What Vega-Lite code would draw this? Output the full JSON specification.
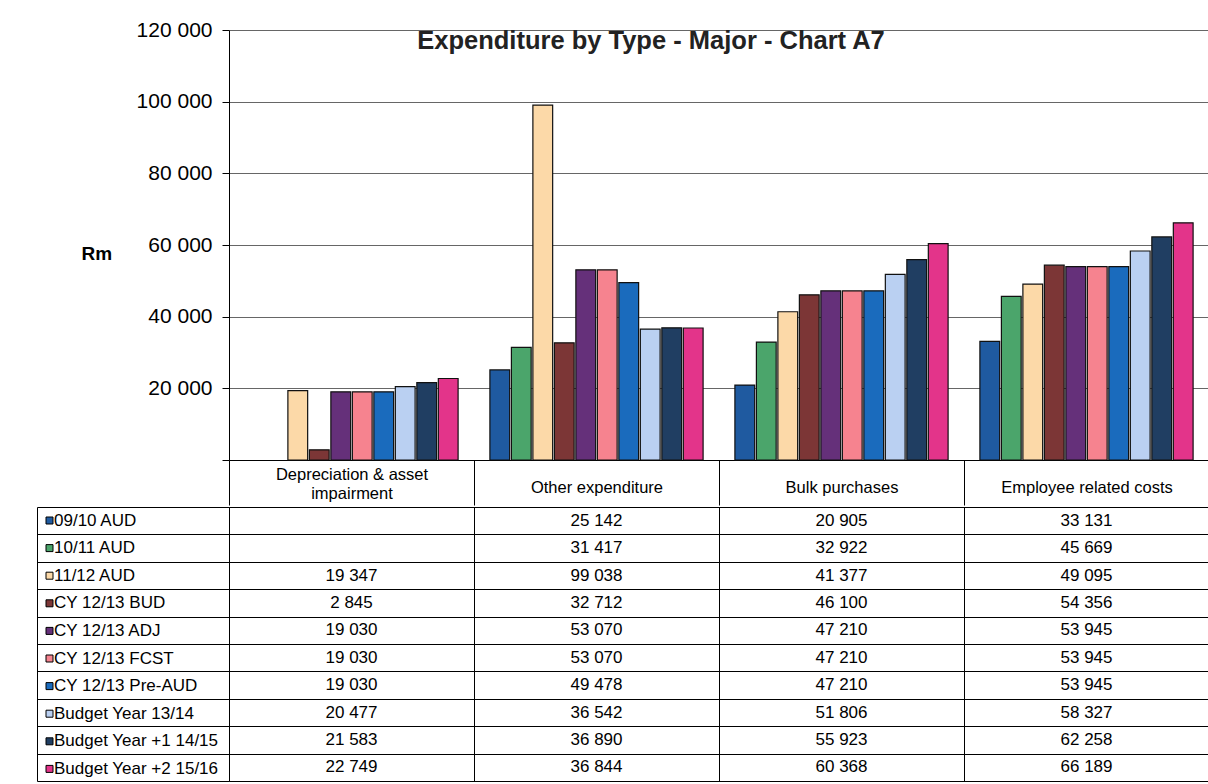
{
  "$schema": "https://vega.github.io/schema/vega-lite/v6.json",
  "background": "white",
  "padding": {"left": 36, "top": 19, "right": 0, "bottom": 0},
  "spacing": 0,
  "config": {
    "locale": {"number": {"decimal": ".", "thousands": " ", "grouping": [3], "currency": ["", ""]}},
    "view": {"stroke": null},
    "font": "Liberation Sans"
  },
  "datasets": {
    "spend": [
      {"category": "Depreciation & asset impairment", "series": "11/12 AUD", "value": 19347},
      {"category": "Depreciation & asset impairment", "series": "CY 12/13 BUD", "value": 2845},
      {"category": "Depreciation & asset impairment", "series": "CY  12/13 ADJ", "value": 19030},
      {"category": "Depreciation & asset impairment", "series": "CY 12/13 FCST", "value": 19030},
      {"category": "Depreciation & asset impairment", "series": "CY 12/13 Pre-AUD", "value": 19030},
      {"category": "Depreciation & asset impairment", "series": "Budget Year 13/14", "value": 20477},
      {"category": "Depreciation & asset impairment", "series": "Budget Year +1 14/15", "value": 21583},
      {"category": "Depreciation & asset impairment", "series": "Budget Year +2 15/16", "value": 22749},
      {"category": "Other expenditure", "series": "09/10 AUD", "value": 25142},
      {"category": "Other expenditure", "series": "10/11 AUD", "value": 31417},
      {"category": "Other expenditure", "series": "11/12 AUD", "value": 99038},
      {"category": "Other expenditure", "series": "CY 12/13 BUD", "value": 32712},
      {"category": "Other expenditure", "series": "CY  12/13 ADJ", "value": 53070},
      {"category": "Other expenditure", "series": "CY 12/13 FCST", "value": 53070},
      {"category": "Other expenditure", "series": "CY 12/13 Pre-AUD", "value": 49478},
      {"category": "Other expenditure", "series": "Budget Year 13/14", "value": 36542},
      {"category": "Other expenditure", "series": "Budget Year +1 14/15", "value": 36890},
      {"category": "Other expenditure", "series": "Budget Year +2 15/16", "value": 36844},
      {"category": "Bulk purchases", "series": "09/10 AUD", "value": 20905},
      {"category": "Bulk purchases", "series": "10/11 AUD", "value": 32922},
      {"category": "Bulk purchases", "series": "11/12 AUD", "value": 41377},
      {"category": "Bulk purchases", "series": "CY 12/13 BUD", "value": 46100},
      {"category": "Bulk purchases", "series": "CY  12/13 ADJ", "value": 47210},
      {"category": "Bulk purchases", "series": "CY 12/13 FCST", "value": 47210},
      {"category": "Bulk purchases", "series": "CY 12/13 Pre-AUD", "value": 47210},
      {"category": "Bulk purchases", "series": "Budget Year 13/14", "value": 51806},
      {"category": "Bulk purchases", "series": "Budget Year +1 14/15", "value": 55923},
      {"category": "Bulk purchases", "series": "Budget Year +2 15/16", "value": 60368},
      {"category": "Employee related costs", "series": "09/10 AUD", "value": 33131},
      {"category": "Employee related costs", "series": "10/11 AUD", "value": 45669},
      {"category": "Employee related costs", "series": "11/12 AUD", "value": 49095},
      {"category": "Employee related costs", "series": "CY 12/13 BUD", "value": 54356},
      {"category": "Employee related costs", "series": "CY  12/13 ADJ", "value": 53945},
      {"category": "Employee related costs", "series": "CY 12/13 FCST", "value": 53945},
      {"category": "Employee related costs", "series": "CY 12/13 Pre-AUD", "value": 53945},
      {"category": "Employee related costs", "series": "Budget Year 13/14", "value": 58327},
      {"category": "Employee related costs", "series": "Budget Year +1 14/15", "value": 62258},
      {"category": "Employee related costs", "series": "Budget Year +2 15/16", "value": 66189}
    ]
  },
  "vconcat": [
    {
      "width": 980,
      "height": 430,
      "data": {"name": "spend"},
      "title": {
        "text": "Expenditure by Type - Major - Chart A7",
        "fontSize": 25.5,
        "fontWeight": "bold",
        "color": "#222",
        "frame": "group",
        "anchor": "middle",
        "dx": -68,
        "dy": 55,
        "offset": 0,
        "baseline": "alphabetic"
      },
      "mark": {"type": "bar", "stroke": "#111", "strokeWidth": 1.2},
      "encoding": {
        "x": {
          "field": "category",
          "type": "nominal",
          "sort": ["Depreciation & asset impairment", "Other expenditure", "Bulk purchases", "Employee related costs"],
          "scale": {"paddingInner": 0, "paddingOuter": 0},
          "axis": {
            "title": null,
            "domainColor": "#000",
            "tickBand": "extent",
            "tickSize": 45,
            "tickColor": "#000",
            "labelAngle": 0,
            "labelFontSize": 16.5,
            "labelColor": "#000",
            "labelBaseline": "middle",
            "labelPadding": {"condition": {"test": "datum.value === 'Depreciation & asset impairment'", "value": -31}, "value": -18},
            "labelLineHeight": 19,
            "labelLimit": 240,
            "labelExpr": "datum.value == 'Depreciation & asset impairment' ? ['Depreciation & asset', 'impairment'] : datum.label"
          }
        },
        "xOffset": {
          "field": "series",
          "type": "nominal",
          "sort": ["09/10 AUD", "10/11 AUD", "11/12 AUD", "CY 12/13 BUD", "CY  12/13 ADJ", "CY 12/13 FCST", "CY 12/13 Pre-AUD", "Budget Year 13/14", "Budget Year +1 14/15", "Budget Year +2 15/16"],
          "scale": {"paddingInner": 0.08, "paddingOuter": 0.74}
        },
        "y": {
          "field": "value",
          "type": "quantitative",
          "scale": {"domain": [0, 120000], "nice": false},
          "axis": {
            "title": "Rm",
            "titleAngle": 0,
            "titleX": -148,
            "titleY": 223,
            "titleAlign": "left",
            "titleBaseline": "middle",
            "titleFontSize": 19,
            "titleFontWeight": "bold",
            "titleColor": "#000",
            "values": [0, 20000, 40000, 60000, 80000, 100000, 120000],
            "format": ",d",
            "labelExpr": "datum.value == 0 ? '' : datum.label",
            "labelFontSize": 21,
            "labelColor": "#000",
            "labelPadding": 10,
            "tickSize": 7,
            "tickColor": "#000",
            "domainColor": "#000",
            "grid": true,
            "gridColor": "#666"
          }
        },
        "color": {
          "field": "series",
          "type": "nominal",
          "scale": {
            "domain": ["09/10 AUD", "10/11 AUD", "11/12 AUD", "CY 12/13 BUD", "CY  12/13 ADJ", "CY 12/13 FCST", "CY 12/13 Pre-AUD", "Budget Year 13/14", "Budget Year +1 14/15", "Budget Year +2 15/16"],
            "range": ["#1f5aa0", "#4ba56b", "#fcd9a8", "#7c3636", "#65307a", "#f6838f", "#1a6bbd", "#bad0f2", "#203e62", "#e3348a"]
          },
          "legend": null
        }
      }
    },
    {
      "width": 980,
      "height": 274,
      "data": {"name": "spend"},
      "layer": [
        {
          "mark": {"type": "text", "fontSize": 17, "font": "Liberation Sans", "baseline": "middle"},
          "encoding": {
            "x": {
              "field": "category",
              "type": "nominal",
              "sort": ["Depreciation & asset impairment", "Other expenditure", "Bulk purchases", "Employee related costs"],
              "scale": {"paddingInner": 0, "paddingOuter": 0},
              "axis": {"title": null, "labels": false, "ticks": false, "domain": false, "grid": true, "gridColor": "#000", "tickBand": "extent"}
            },
            "y": {
              "field": "series",
              "type": "nominal",
              "sort": ["09/10 AUD", "10/11 AUD", "11/12 AUD", "CY 12/13 BUD", "CY  12/13 ADJ", "CY 12/13 FCST", "CY 12/13 Pre-AUD", "Budget Year 13/14", "Budget Year +1 14/15", "Budget Year +2 15/16"],
              "scale": {"paddingInner": 0, "paddingOuter": 0},
              "axis": {"title": null, "labels": false, "tickBand": "extent", "tickSize": 192, "tickColor": "#000", "domainColor": "#000", "grid": true, "gridColor": "#000"}
            },
            "text": {"field": "value", "type": "quantitative", "format": ",d"},
            "color": {
              "field": "series",
              "type": "nominal",
              "scale": {
                "domain": ["09/10 AUD", "10/11 AUD", "11/12 AUD", "CY 12/13 BUD", "CY  12/13 ADJ", "CY 12/13 FCST", "CY 12/13 Pre-AUD", "Budget Year 13/14", "Budget Year +1 14/15", "Budget Year +2 15/16"],
                "range": ["#1f5aa0", "#4ba56b", "#fcd9a8", "#7c3636", "#65307a", "#f6838f", "#1a6bbd", "#bad0f2", "#203e62", "#e3348a"]
              },
              "condition": {"test": "true", "value": "#000"},
              "legend": {
                "orient": "none",
                "legendX": -188,
                "legendY": 5,
                "title": null,
                "symbolType": "square",
                "symbolSize": 49,
                "symbolStrokeColor": "#000",
                "symbolStrokeWidth": 1,
                "symbolOpacity": 1,
                "labelFontSize": 17,
                "labelColor": "#000",
                "labelFont": "Liberation Sans",
                "labelOffset": -4,
                "labelLimit": 200,
                "rowPadding": 9.6
              }
            }
          }
        },
        {
          "mark": {"type": "text", "opacity": 0},
          "encoding": {
            "y": {
              "field": "series",
              "type": "nominal",
              "sort": ["09/10 AUD", "10/11 AUD", "11/12 AUD", "CY 12/13 BUD", "CY  12/13 ADJ", "CY 12/13 FCST", "CY 12/13 Pre-AUD", "Budget Year 13/14", "Budget Year +1 14/15", "Budget Year +2 15/16"],
              "axis": {"orient": "left", "offset": 192, "title": null, "labels": false, "ticks": false, "grid": false, "domain": true, "domainColor": "#000"}
            },
            "text": {"value": ""}
          }
        }
      ],
      "resolve": {"axis": {"y": "independent"}}
    }
  ],
  "resolve": {"scale": {"x": "independent", "y": "independent", "color": "independent"}}
}
